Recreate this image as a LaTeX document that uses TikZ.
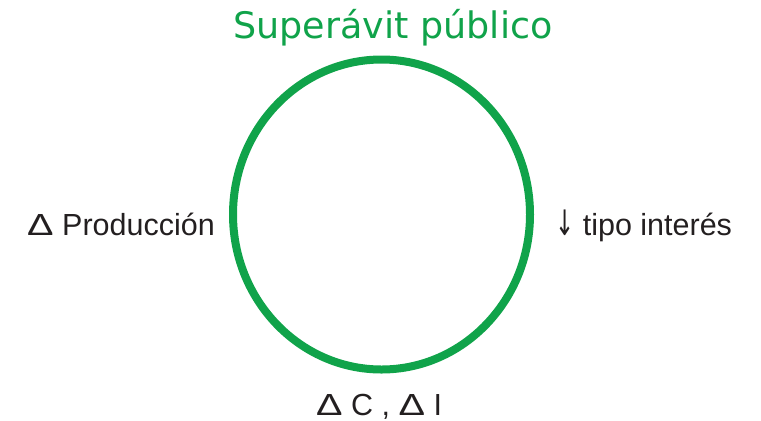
\documentclass[tikz,border=0pt]{standalone}
\usepackage{fontspec}
\usepackage{graphicx}
\setmainfont{Liberation Sans}
\newfontfamily\titlefont{DejaVu Sans}
\newfontfamily\arrowfont{DejaVu Sans}
\definecolor{cyclegreen}{RGB}{16,163,74}
\definecolor{labelgray}{RGB}{35,31,32}
\newcommand{\wdelta}{\scalebox{1.3}[1]{Δ}}
\newcommand{\downarr}{\scalebox{0.75}[1.15]{\arrowfont ↓}}
\begin{document}
\begin{tikzpicture}[x=1bp,y=-1bp,
  lbl/.style={anchor=base west,inner sep=0pt,text=labelgray,font=\fontsize{30.5bp}{36bp}\selectfont},
  ttl/.style={anchor=base,inner sep=0pt,text=cyclegreen,font=\titlefont\fontsize{36.5bp}{44bp}\selectfont},
  ring/.style={draw=cyclegreen,line width=8bp}]
\useasboundingbox (0,0) rectangle (761,420);
\node[ttl] (title) at (393,38) {Superávit público};
\draw[ring] (381.5,214.5) ellipse [x radius=148.5, y radius=155];
\node[lbl] (prod) at (27,235) {\wdelta\ Producción};
\node[lbl] (tipo) at (555,235) {\downarr\ tipo interés};
\node[lbl] (ci) at (316,415) {\wdelta\ C , \wdelta\ I};
\end{tikzpicture}
\end{document}
